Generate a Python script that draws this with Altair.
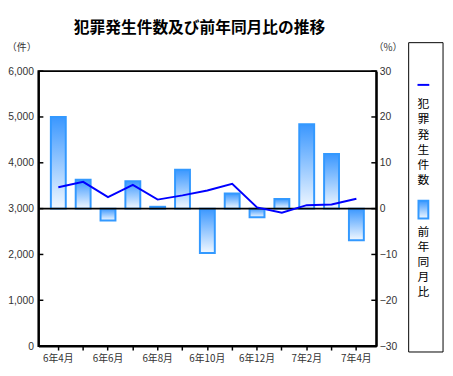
import json
import altair as alt
import pandas as pd

months = ["6年4月", "6年5月", "6年6月", "6年7月", "6年8月", "6年9月", "6年10月",
          "6年11月", "6年12月", "7年1月", "7年2月", "7年3月", "7年4月"]
labeled = ["6年4月", "6年6月", "6年8月", "6年10月", "6年12月", "7年2月", "7年4月"]
crimes = [3467, 3583, 3253, 3519, 3197, 3289, 3396, 3540, 3026, 2910, 3075, 3090, 3215]
yoy = [20.0, 6.3, -2.6, 6.0, 0.4, 8.5, -9.7, 3.3, -1.9, 2.1, 18.4, 11.9, -6.9]
left_ticks = [0, 1000, 2000, 3000, 4000, 5000, 6000]
right_ticks = [-30, -20, -10, 0, 10, 20, 30]

title_text = "犯罪発生件数及び前年同月比の推移"
legend_line_chars = list("犯罪発生件数")
legend_bar_chars = list("前年同月比")

W, H = 344, 280
FONT = "Liberation Sans, Noto Sans CJK JP"
CJK = "Noto Sans CJK JP"
LABEL_COLOR = "#333333"

df = pd.DataFrame({"month": months, "crimes": crimes, "yoy": yoy})
one = pd.DataFrame({"k": [0]})

grad = alt.Gradient(
    gradient="linear",
    stops=[alt.GradientStop(color="#3a97ff", offset=0),
           alt.GradientStop(color="#f2f8ff", offset=1)],
    x1=0, x2=0, y1=0, y2=1,
)

label_expr = "indexof(" + json.dumps(labeled, ensure_ascii=False) + ", datum.value) >= 0 ? datum.value : ''"

x_axis = alt.Axis(title=None, labelExpr=label_expr, labelAngle=0, tickSize=4,
                  tickColor="black", tickWidth=1.5, labelPadding=4,
                  labelFont=CJK, labelFontSize=10, labelColor=LABEL_COLOR,
                  domainColor="black", domainWidth=2, grid=False)
x_enc = alt.X("month:N", sort=months,
              scale=alt.Scale(paddingInner=0.4, paddingOuter=0.5), axis=x_axis)

right_axis = alt.Axis(orient="right", title=None, values=right_ticks, ticks=False,
                      labelPadding=3, labelFont=FONT, labelFontSize=10.5,
                      labelColor=LABEL_COLOR, domainColor="black", domainWidth=2,
                      grid=False)
left_axis = alt.Axis(orient="left", title=None, values=left_ticks, ticks=False,
                     labelExpr="format(datum.value, ',')", labelPadding=5,
                     labelFont=FONT, labelFontSize=10.5, labelColor=LABEL_COLOR,
                     domainColor="black", domainWidth=2, grid=False)
right_scale = alt.Scale(domain=[-30, 30])
left_scale = alt.Scale(domain=[0, 6000])

# right (%) layer
bars = alt.Chart(df).mark_bar(color=grad, stroke="#3399ff", strokeWidth=2).encode(
    x=x_enc,
    y=alt.Y("yoy:Q", scale=right_scale, axis=right_axis),
)
zero_line = alt.Chart(one).mark_rule(color="black", strokeWidth=2).encode(
    y=alt.datum(0, scale=right_scale, axis=right_axis), x=alt.value(0), x2=alt.value(W)
)
right_tick_marks = alt.Chart(pd.DataFrame({"yoy": right_ticks})).mark_rule(
    color="black", strokeWidth=1.5).encode(
    y=alt.Y("yoy:Q", scale=right_scale, axis=right_axis), x=alt.value(W - 5), x2=alt.value(W)
)
right_layer = alt.layer(bars, zero_line, right_tick_marks)

# left (count) layer
line = alt.Chart(df).mark_line(color="#0000ff", strokeWidth=2).encode(
    x=x_enc,
    y=alt.Y("crimes:Q", scale=left_scale, axis=left_axis),
)
left_tick_marks = alt.Chart(pd.DataFrame({"crimes": left_ticks})).mark_rule(
    color="black", strokeWidth=1.5).encode(
    y=alt.Y("crimes:Q", scale=left_scale, axis=left_axis), x=alt.value(0), x2=alt.value(5)
)
left_layer = alt.layer(line, left_tick_marks)

# titles and legend decoration
def label(text, x, y, size, weight="normal", color="black", font=CJK):
    return alt.Chart(one).mark_text(font=font, fontSize=size, fontWeight=weight, color=color,
                                    align="center", baseline="middle").encode(
        x=alt.value(x), y=alt.value(y), text=alt.value(text))

title = label(title_text, 164, -44, 16, weight="bold")
unit_left = label("（件）", -17, -23, 10, color=LABEL_COLOR)
unit_right = label("（%）", 356, -23, 10, color=LABEL_COLOR)

legend_box = alt.Chart(one).mark_rect(fillOpacity=0, stroke="black", strokeWidth=1).encode(
    x=alt.value(377), x2=alt.value(412), y=alt.value(-29), y2=alt.value(286))
legend_line = alt.Chart(one).mark_rule(color="#0000ff", strokeWidth=2).encode(
    x=alt.value(386), x2=alt.value(398), y=alt.value(14))
legend_swatch = alt.Chart(one).mark_rect(color=grad, stroke="#3399ff", strokeWidth=2).encode(
    x=alt.value(387), x2=alt.value(397), y=alt.value(132), y2=alt.value(150))

legend_texts = []
for i, ch in enumerate(legend_line_chars):
    legend_texts.append(label(ch, 392, 34 + 15.3 * i, 12, font=FONT))
for i, ch in enumerate(legend_bar_chars):
    legend_texts.append(label(ch, 392, 164 + 15.3 * i, 12, font=FONT))

chart = alt.layer(
    right_layer, left_layer, title, unit_left, unit_right,
    legend_box, legend_line, legend_swatch, *legend_texts,
).resolve_scale(y="independent").properties(
    width=W, height=H,
    background="white",
    autosize=alt.AutoSizeParams(type="none"),
    padding={"left": 31, "top": 61, "right": 70, "bottom": 19},
).configure_view(stroke="black", strokeWidth=2)

chart.save("out.html", embed_options={"renderer": "svg", "actions": False})
